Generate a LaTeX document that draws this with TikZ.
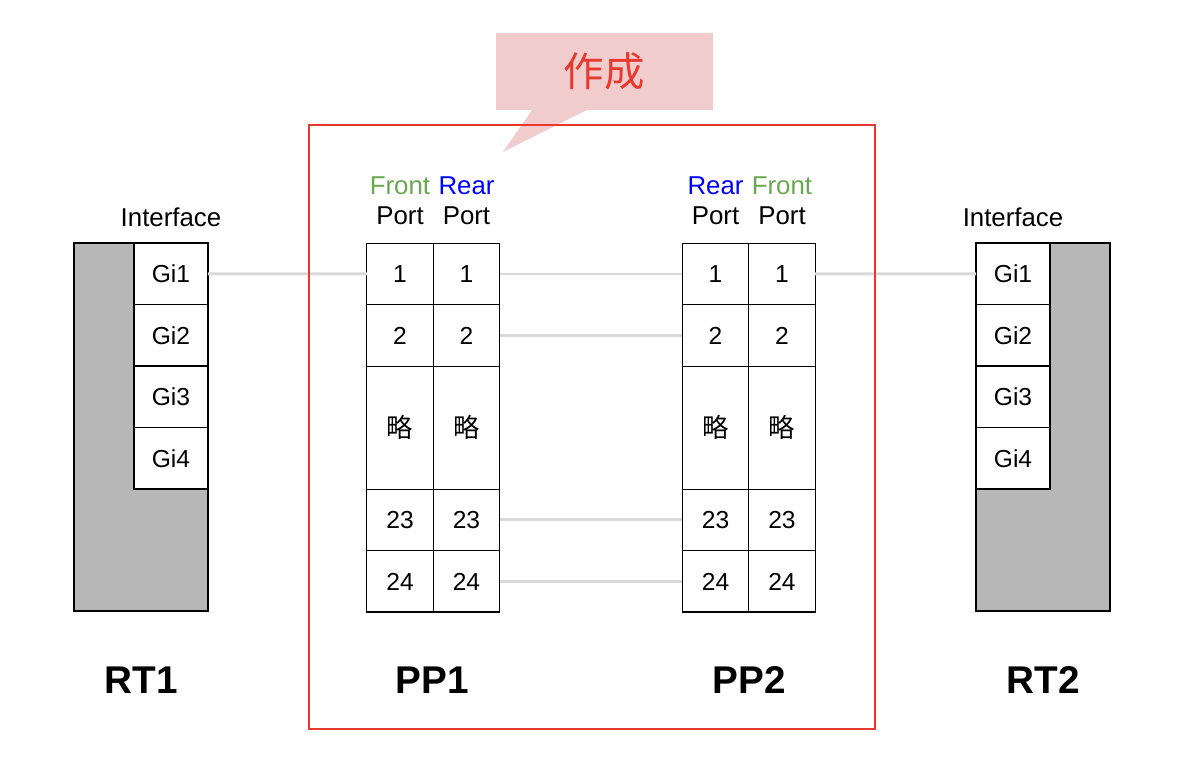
\documentclass[tikz,border=0pt]{standalone}
\usepackage{fontspec}
\setmainfont{Liberation Sans}
\newfontfamily\jpfont{Noto Sans CJK JP}
\usepackage{tikz}
\usetikzlibrary{positioning}
\definecolor{frontgreen}{HTML}{6AA84F}
\definecolor{rearblue}{HTML}{0000FF}
\definecolor{framered}{HTML}{E8392E}
\definecolor{calloutpink}{HTML}{F0CCCC}
\definecolor{wiregray}{HTML}{D9D9D9}
\definecolor{bodygray}{HTML}{B7B7B7}
\tikzset{
    net body/.style={
        draw=black,
        fill=bodygray,
        line width=0.8pt,
        minimum width=2.68cm,
        minimum height=7.36cm,
        inner sep=0pt,
        outer sep=0pt
    },
    if cell/.style={
        draw=black,
        fill=white,
        line width=0.8pt,
        minimum width=1.48cm,
        minimum height=1.23cm,
        inner sep=0pt,
        outer sep=0pt,
        font=\fontsize{14}{16}\selectfont
    },
    port cell/.style={if cell, minimum width=1.33cm},
    skip cell/.style={port cell, minimum height=2.46cm, font=\jpfont\fontsize{15}{16}\selectfont},
    col head/.style={align=center, inner sep=0pt, font=\fontsize{14.7}{17}\selectfont},
    if head/.style={inner sep=0pt, font=\fontsize{14.7}{16}\selectfont},
    dev name/.style={font=\fontsize{22}{24}\selectfont\bfseries},
    wire/.style={draw=wiregray, line width=1.7pt}
}

\begin{document}
\begin{tikzpicture}[x=0.02cm, y=-0.02cm]
\useasboundingbox (0,0) rectangle (1200,776);

% callout
\fill[calloutpink] (496,33) -- (713,33) -- (713,110) -- (587,110) -- (503,152) -- (532,110) -- (496,110) -- cycle;
\node[text=framered, font=\jpfont\fontsize{23}{24}\selectfont] (made) at (604,71) {作成};

% RT1
\node[net body] (rt1) at (141,427) {};
\node[if cell, anchor=north east] (rt1g1) at (rt1.north east) {Gi1};
\node[if cell, below=0pt of rt1g1] (rt1g2) {Gi2};
\node[if cell, below=0pt of rt1g2] (rt1g3) {Gi3};
\node[if cell, below=0pt of rt1g3] (rt1g4) {Gi4};
\node[if head, above=0.32cm of rt1g1] (rt1if) {Interface};
\node[dev name] (rt1name) at (141,680) {RT1};

% PP1
\node[port cell] (pp1f1) at (400,274) {1};
\node[port cell, right=0pt of pp1f1] (pp1r1) {1};
\node[port cell, below=0pt of pp1f1] (pp1f2) {2};
\node[port cell, below=0pt of pp1r1] (pp1r2) {2};
\node[skip cell, below=0pt of pp1f2] (pp1fs) {略};
\node[skip cell, below=0pt of pp1r2] (pp1rs) {略};
\node[port cell, below=0pt of pp1fs] (pp1f23) {23};
\node[port cell, below=0pt of pp1rs] (pp1r23) {23};
\node[port cell, below=0pt of pp1f23] (pp1f24) {24};
\node[port cell, below=0pt of pp1r23] (pp1r24) {24};
\node[col head, above=0.36cm of pp1f1] (pp1fh) {\textcolor{frontgreen}{Front}\\Port};
\node[col head, above=0.36cm of pp1r1] (pp1rh) {\textcolor{rearblue}{Rear}\\Port};
\node[dev name] (pp1name) at (432,680) {PP1};

% PP2
\node[port cell] (pp2r1) at (715.5,274) {1};
\node[port cell, right=0pt of pp2r1] (pp2f1) {1};
\node[port cell, below=0pt of pp2r1] (pp2r2) {2};
\node[port cell, below=0pt of pp2f1] (pp2f2) {2};
\node[skip cell, below=0pt of pp2r2] (pp2rs) {略};
\node[skip cell, below=0pt of pp2f2] (pp2fs) {略};
\node[port cell, below=0pt of pp2rs] (pp2r23) {23};
\node[port cell, below=0pt of pp2fs] (pp2f23) {23};
\node[port cell, below=0pt of pp2r23] (pp2r24) {24};
\node[port cell, below=0pt of pp2f23] (pp2f24) {24};
\node[col head, above=0.36cm of pp2r1] (pp2rh) {\textcolor{rearblue}{Rear}\\Port};
\node[col head, above=0.36cm of pp2f1] (pp2fh) {\textcolor{frontgreen}{Front}\\Port};
\node[dev name] (pp2name) at (749,680) {PP2};

% RT2
\node[net body] (rt2) at (1043,427) {};
\node[if cell, anchor=north west] (rt2g1) at (rt2.north west) {Gi1};
\node[if cell, below=0pt of rt2g1] (rt2g2) {Gi2};
\node[if cell, below=0pt of rt2g2] (rt2g3) {Gi3};
\node[if cell, below=0pt of rt2g3] (rt2g4) {Gi4};
\node[if head, above=0.32cm of rt2g1] (rt2if) {Interface};
\node[dev name] (rt2name) at (1043,680) {RT2};

% cables
\draw[wire] (rt1g1) -- (pp1f1);
\draw[wire] (pp1r1) -- (pp2r1);
\draw[wire] (pp1r2) -- (pp2r2);
\draw[wire] (pp1r23) -- (pp2r23);
\draw[wire] (pp1r24) -- (pp2r24);
\draw[wire] (pp2f1) -- (rt2g1);

% scope of work
\draw[framered, line width=1.4pt] (309,125) rectangle (875,729);
\end{tikzpicture}
\end{document}
